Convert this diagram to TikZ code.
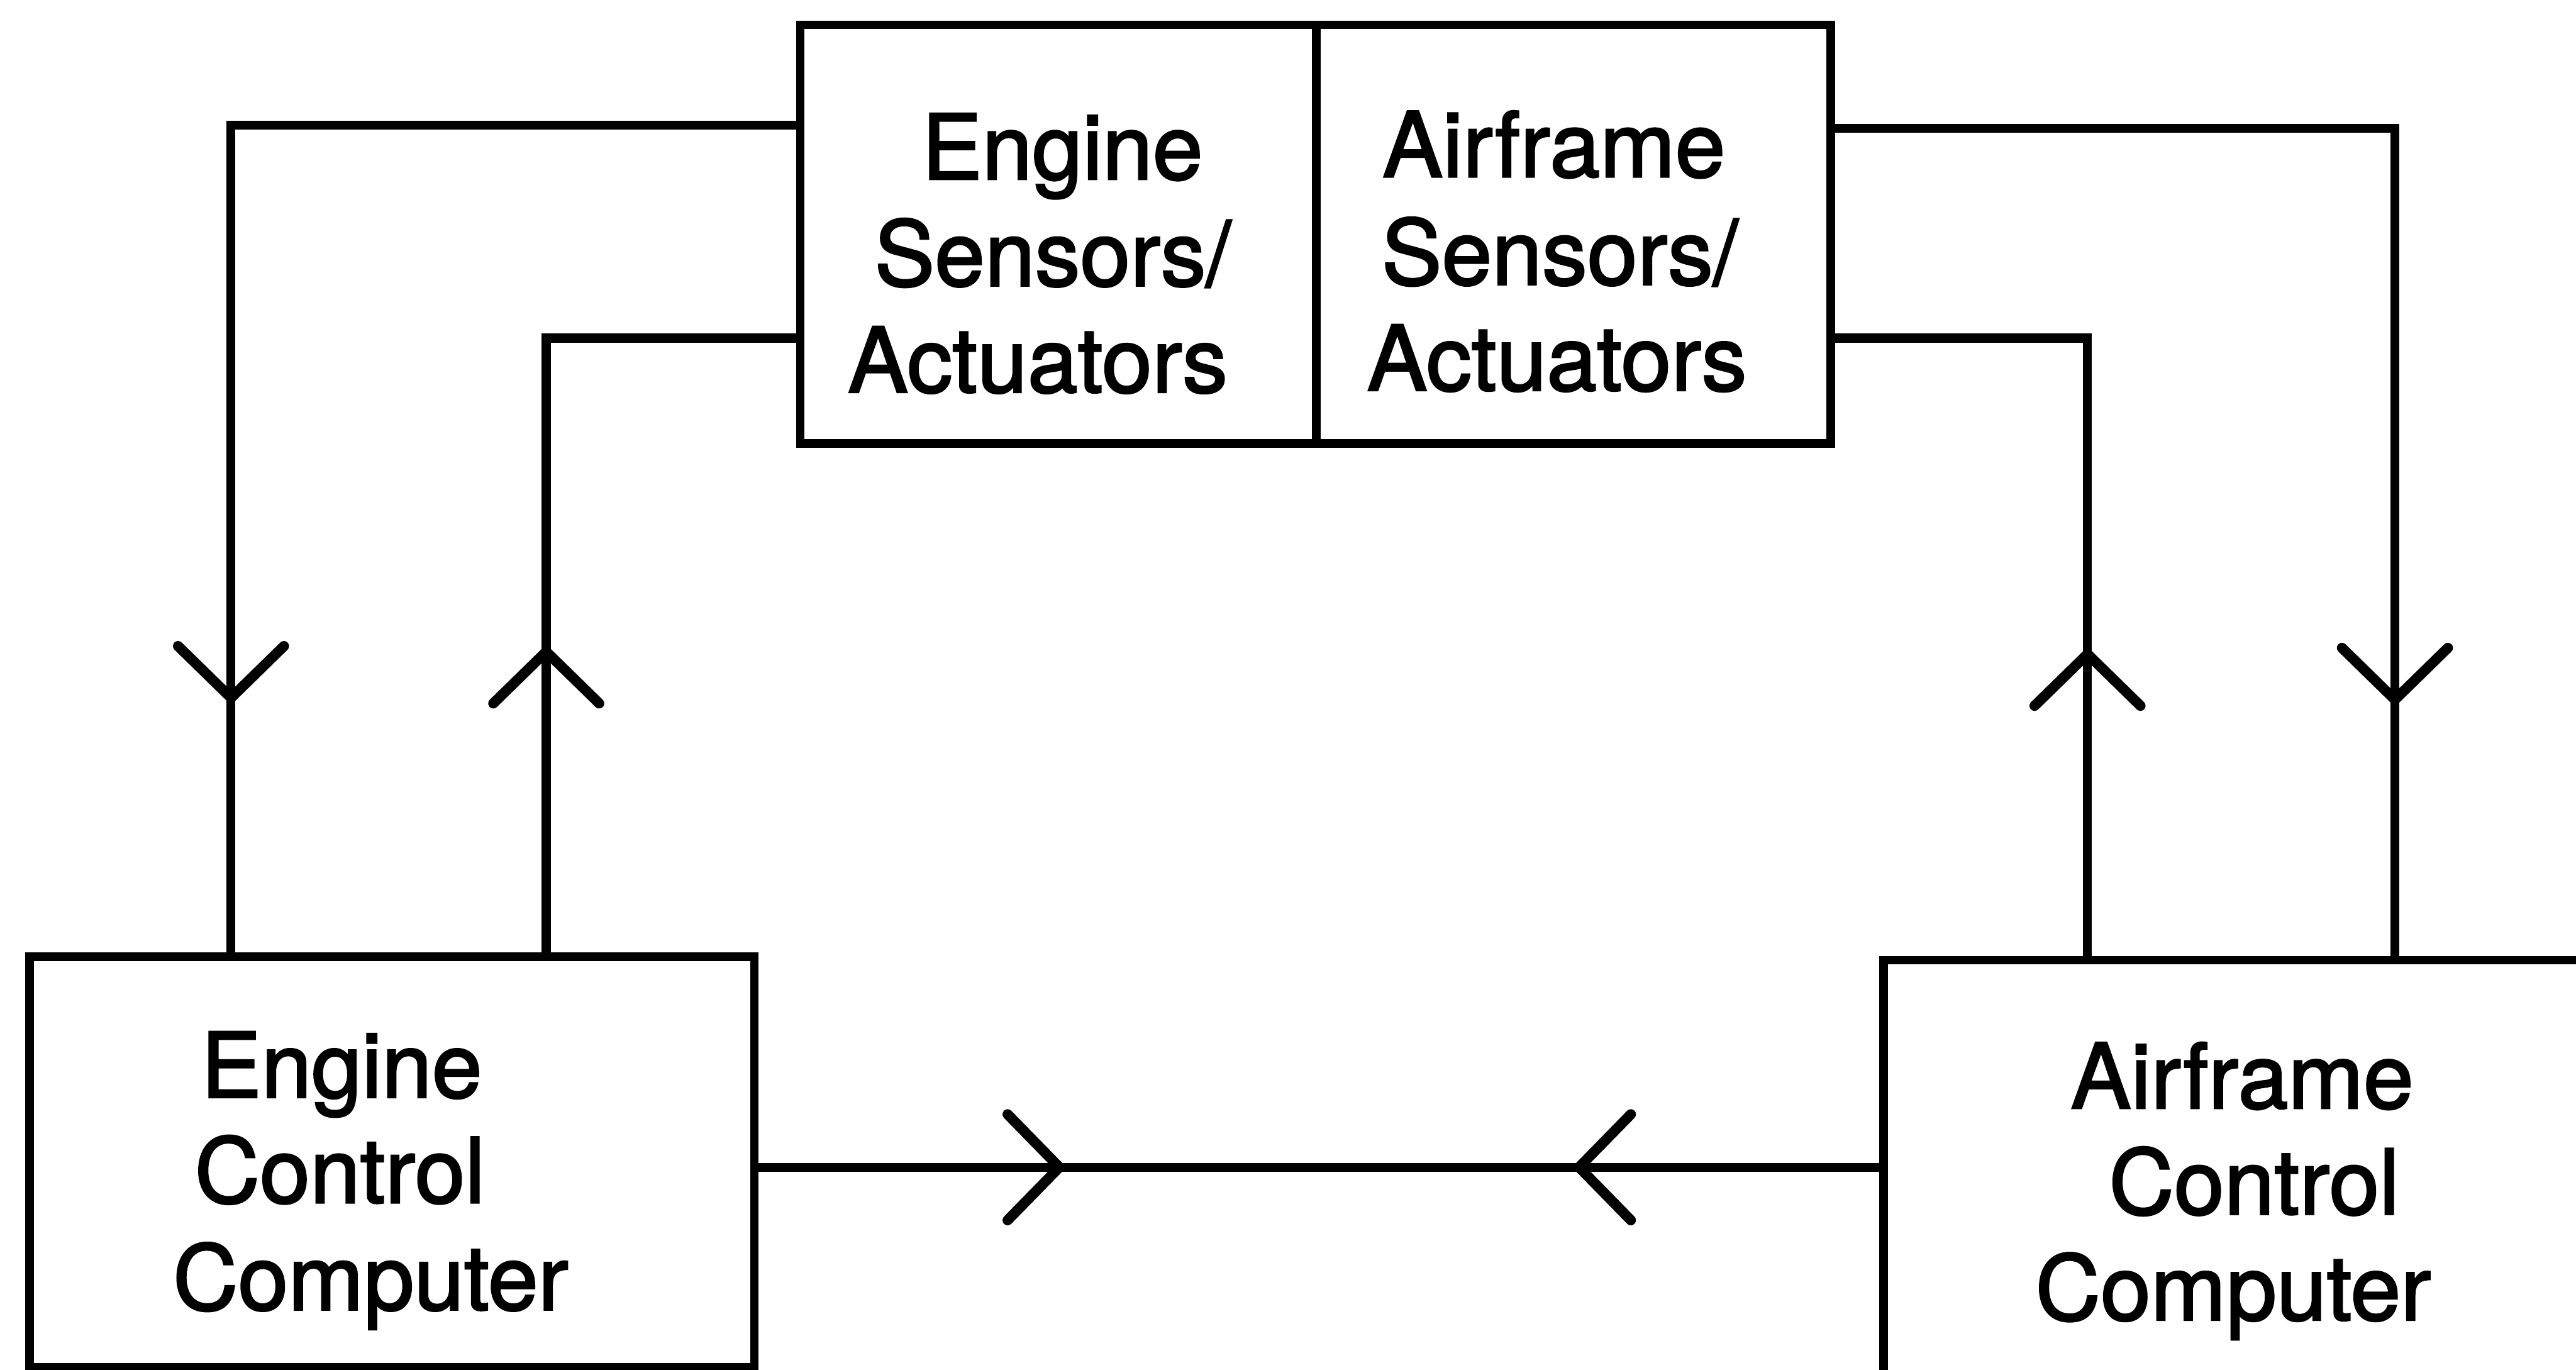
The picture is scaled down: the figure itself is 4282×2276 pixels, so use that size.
\documentclass[tikz,border=0pt]{standalone}
\usepackage{fontspec}
\setmainfont{TeX Gyre Heros}
\newfontfamily\lblfont{TeX Gyre Heros}[FakeBold=2]
\usetikzlibrary{decorations.markings}
\tikzset{
  box/.style={draw, line width=1.4pt, inner sep=0pt, outer sep=0pt},
  lbl/.style={anchor=base, inner sep=0pt, font=\lblfont\fontsize{15pt}{17.6pt}\selectfont},
  conn/.style={line width=1.5pt},
  tipat/.style={postaction={decorate, decoration={markings,
      mark=at position #1 with {\draw[line width=1.7pt, line cap=round, line join=miter]
        (-8.6pt,8.8pt) -- (0pt,0pt) -- (-8.6pt,-8.8pt);}}}},
  tipback/.style={postaction={decorate, decoration={markings,
      mark=at position #1 with {\draw[line width=1.7pt, line cap=round, line join=miter]
        (8.6pt,8.8pt) -- (0pt,0pt) -- (8.6pt,-8.8pt);}}}}
}
\begin{document}
\begin{tikzpicture}[x=0.1pt, y=-0.1pt]
  \useasboundingbox (0,0) rectangle (4282,2276);
  \clip (0,0) rectangle (4282,2276);
  % boxes
  \node[box, minimum width=85.8pt, minimum height=69.6pt] (es) at (1759,389) {};
  \node[box, minimum width=85.5pt, minimum height=69.6pt] (as) at (2615.5,389) {};
  \node[box, minimum width=120.5pt, minimum height=68.2pt] (ecc) at (651.5,1931) {};
  \node[box, minimum width=131.9pt, minimum height=85.4pt] (acc) at (3790.5,2023) {};
  % labels
  \node[lbl] (es1) at (1766,298) {Engine};
  \node[lbl] (es2) at (1750,475) {Sensors/};
  \node[lbl] (es3) at (1725,652) {Actuators};
  \node[lbl] (as1) at (2583,294) {Airframe};
  \node[lbl] (as2) at (2593,473) {Sensors/};
  \node[lbl] (as3) at (2588,649) {Actuators};
  \node[lbl] (ecc1) at (568,1824) {Engine};
  \node[lbl] (ecc2) at (565,1999) {Control};
  \node[lbl] (ecc3) at (616,2177) {Computer};
  \node[lbl] (acc1) at (3727,1842) {Airframe};
  \node[lbl] (acc2) at (3747,2018) {Control};
  \node[lbl] (acc3) at (3712,2194) {Computer};
  % corner coordinates
  \coordinate (c1) at (384,208);
  \coordinate (c2) at (908,562);
  \coordinate (c3) at (3470,562);
  \coordinate (c4) at (3981,213);
  \coordinate (c5) at (2200,1940);
  % connectors
  \draw[conn, tipat=189.8pt] (es.west |- c1) -- (c1) -- (c1 |- ecc.north);
  \draw[conn, tipat=50.7pt] (c2 |- ecc.north) -- (c2) -- (es.west |- c2);
  \draw[conn, tipat=50.9pt] (c3 |- acc.north) -- (c3) -- (as.east |- c3);
  \draw[conn, tipat=188.8pt] (as.east |- c4) -- (c4) -- (c4 |- acc.north);
  \draw[conn, tipat=50.7pt, tipback=137.1pt] (ecc.east |- c5) -- (acc.west |- c5);
\end{tikzpicture}
\end{document}
